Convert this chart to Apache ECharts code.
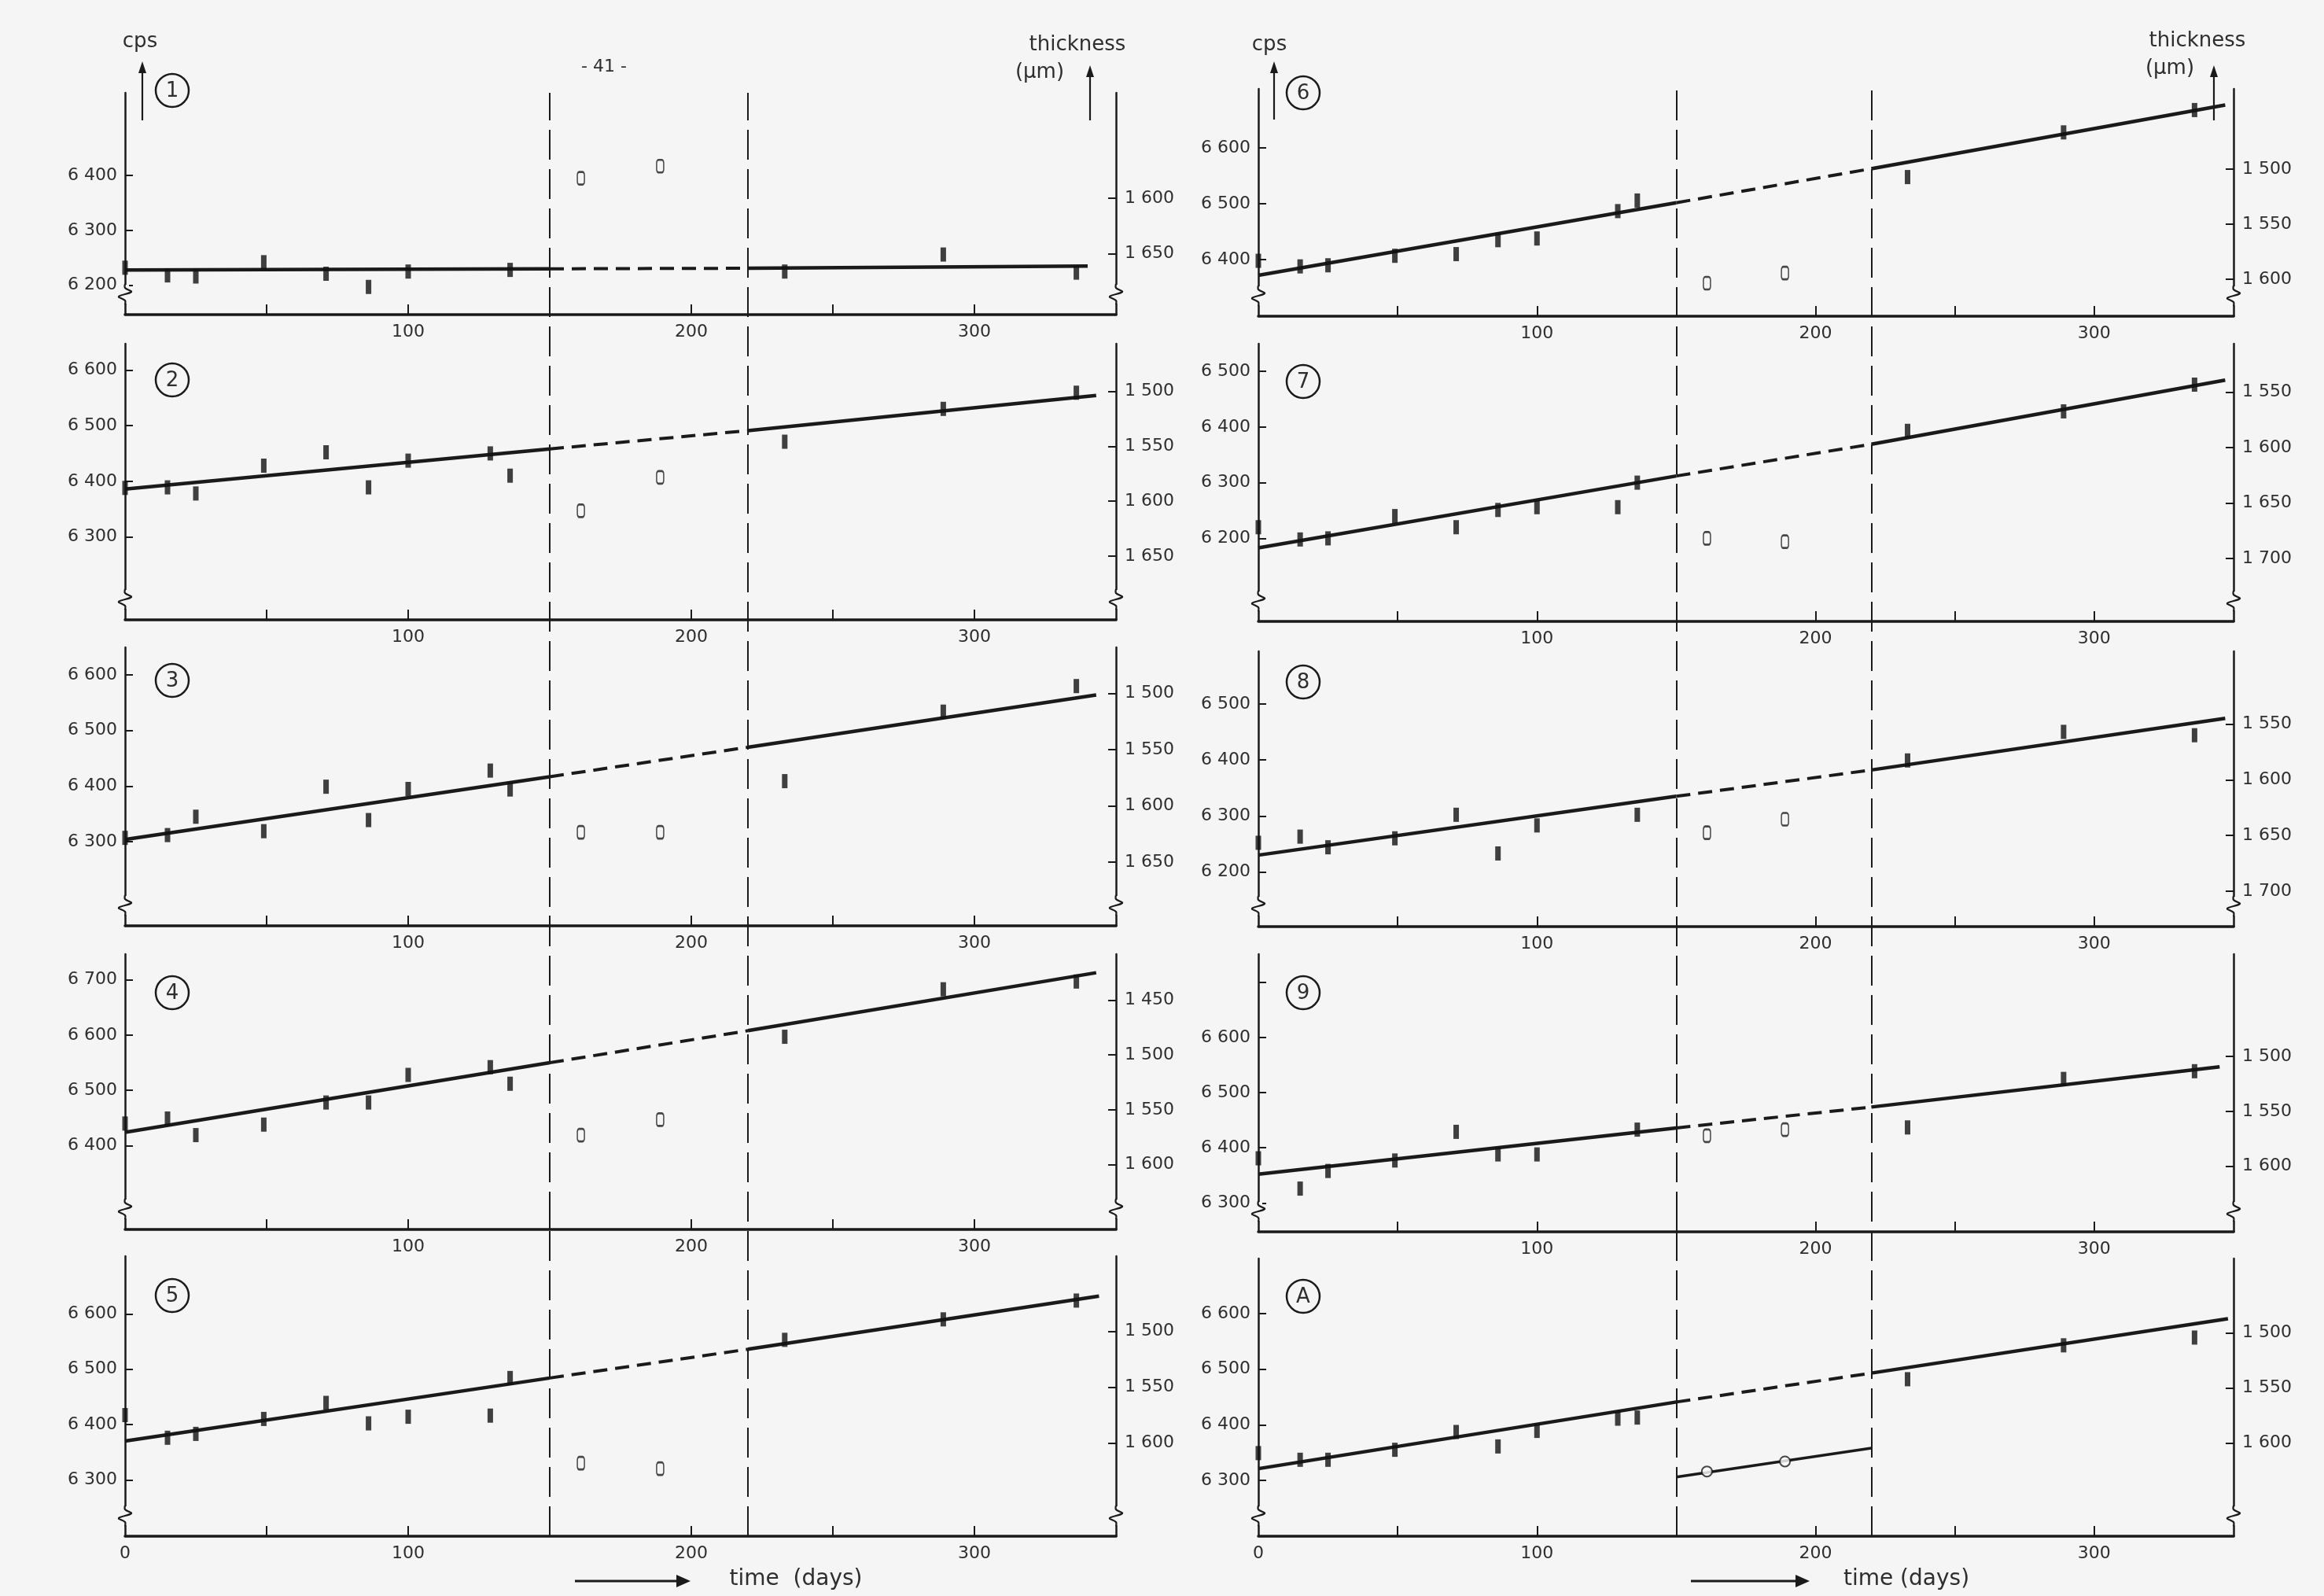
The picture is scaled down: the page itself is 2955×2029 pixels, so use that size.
<!DOCTYPE html>
<html><head><meta charset="utf-8">
<script src="https://cdn.jsdelivr.net/npm/echarts@6/dist/echarts.min.js"></script>
<style>html,body{margin:0;padding:0;background:#f5f5f5}#c{width:2955px;height:2029px}</style>
</head><body><div id="c"></div><script>
// ---------------- DATA ----------------
const filledDays = [0, 15, 25, 49, 71, 86, 100, 129, 136, 233, 289, 336];
const openDays = [161, 189];
const phaseBounds = [150, 220];
const panelNames = ['1', '2', '3', '4', '5', '6', '7', '8', '9', 'A'];

const cps1 = [6232, 6218, 6216, 6242, 6221, 6197, 6225, null, 6228, 6225, 6256, 6223];
const cps2 = [6388, 6389, 6378, 6428, 6452, 6389, 6437, 6450, 6410, 6471, 6530, 6559];
const cps3 = [6307, 6312, 6345, 6319, 6399, 6339, 6395, 6428, 6394, 6409, 6534, 6580];
const cps4 = [6440, 6449, 6419, 6438, 6478, 6478, 6528, 6542, 6512, 6597, 6683, 6697];
const cps5 = [6417, 6376, 6383, 6410, 6439, 6402, 6414, 6416, 6484, 6553, 6590, 6624];
const cps6 = [6398, 6388, 6390, 6407, 6410, 6435, 6438, 6487, 6506, 6548, 6628, 6668];
const cps7 = [6220, 6198, 6200, 6240, 6220, 6251, 6256, 6256, 6300, 6393, 6428, 6476];
const cps8 = [6252, 6263, 6244, 6260, 6302, 6233, 6283, null, 6302, 6399, 6450, 6444];
const cps9 = [6381, 6326, 6358, 6377, 6429, 6388, 6388, null, 6433, 6437, 6525, 6539];
const cpsA = [6349, 6337, 6337, 6355, 6387, 6361, 6389, 6411, 6413, 6482, 6543, 6557];

const open1 = [6395, 6417];
const open2 = [6347, 6407];
const open3 = [6317, 6317];
const open4 = [6419, 6447];
const open5 = [6330, 6320];
const open6 = [6358, 6376];
const open7 = [6200, 6194];
const open8 = [6270, 6294];
const open9 = [6422, 6433];
const openA = [6316, 6334];

// fitted line read at day 0, 150, 220 and its end day
const fit1 = [6228, 6230, 6231, 6235];
const fit2 = [6386, 6458, 6491, 6554];
const fit3 = [6304, 6417, 6470, 6564];
const fit4 = [6424, 6550, 6608, 6713];
const fit5 = [6370, 6484, 6536, 6632];
const fit6 = [6372, 6502, 6563, 6677];
const fit7 = [6183, 6312, 6369, 6484];
const fit8 = [6230, 6335, 6382, 6474];
const fit9 = [6352, 6436, 6474, 6547];
const fitA = [6321, 6441, 6493, 6591];
const fitEndDays = [340, 343, 343, 343, 344, 347, 347, 347, 345, 348];
const lowerFitA = [6306, 6358]; // panel A, open-point line at day 150 and 220

// tick labels
const leftTicks = [
  [6200, 6300, 6400], [6300, 6400, 6500, 6600], [6300, 6400, 6500, 6600],
  [6400, 6500, 6600, 6700], [6300, 6400, 6500, 6600],
  [6400, 6500, 6600], [6200, 6300, 6400, 6500], [6200, 6300, 6400, 6500],
  [6300, 6400, 6500, 6600], [6300, 6400, 6500, 6600]
];
const leftExtraTicks = [[], [], [], [], [], [], [], [], [6700], []];
const rightTicks = [
  [1600, 1650], [1500, 1550, 1600, 1650], [1500, 1550, 1600, 1650],
  [1450, 1500, 1550, 1600], [1500, 1550, 1600],
  [1500, 1550, 1600], [1550, 1600, 1650, 1700], [1550, 1600, 1650, 1700],
  [1500, 1550, 1600], [1500, 1550, 1600]
];
const xTickDays = [50, 100, 150, 200, 250, 300];
const xLabelDays = [100, 200, 300];
const xLabelDaysBottom = [0, 100, 200, 300];

const CPS = [cps1, cps2, cps3, cps4, cps5, cps6, cps7, cps8, cps9, cpsA];
const OPEN = [open1, open2, open3, open4, open5, open6, open7, open8, open9, openA];
const FIT = [fit1, fit2, fit3, fit4, fit5, fit6, fit7, fit8, fit9, fitA];

// ---------------- LAYOUT / STYLE ----------------
const BG = '#f5f5f5';
const INK = '#1a1a1a';
const TXT = '#2e2e2e';
const FONT = 'DejaVu Sans';
const COLS = [{ left: 159, right: 1419 }, { left: 1600, right: 2840 }];
const LAYOUT = [
  { col: 0, top: 118, bottom: 400, y: [6146.5, 6550.6], t: [1504.8, 1704.9], cy: 115 },
  { col: 0, top: 437, bottom: 788, y: [6151, 6647], t: [1456.7, 1707.9], cy: 483 },
  { col: 0, top: 823, bottom: 1177, y: [6148.8, 6649.6], t: [1459.1, 1706.5], cy: 865 },
  { col: 0, top: 1213, bottom: 1563, y: [6248.2, 6746.6], t: [1408.1, 1659], cy: 1262 },
  { col: 0, top: 1597, bottom: 1953, y: [6198, 6704.2], t: [1432.7, 1683.4], cy: 1647, last: true },
  { col: 1, top: 113, bottom: 402, y: [6298.8, 6705.9], t: [1427.4, 1633.4], cy: 118 },
  { col: 1, top: 437, bottom: 790, y: [6050.9, 6549.4], t: [1506.3, 1756.7], cy: 485 },
  { col: 1, top: 828, bottom: 1178, y: [6102.4, 6593.8], t: [1484.6, 1731.8], cy: 867 },
  { col: 1, top: 1213, bottom: 1566, y: [6247.6, 6751.4], t: [1406.7, 1659.8], cy: 1262 },
  { col: 1, top: 1600, bottom: 1953, y: [6199.4, 6699.2], t: [1432.6, 1684.6], cy: 1648, last: true }
];

const fmt = v => { const s = String(v); return s.charAt(0) + ' ' + s.slice(1); };

const grid = [], xAxis = [], yAxis = [], series = [];
LAYOUT.forEach((L, i) => {
  const C = COLS[L.col];
  grid.push({ left: C.left, top: L.top, width: C.right - C.left, height: L.bottom - L.top });
  xAxis.push({
    gridIndex: i, type: 'value', min: 0, max: 350,
    axisLine: { onZero: false, lineStyle: { color: INK, width: 3.5 } },
    axisTick: { customValues: xTickDays, inside: true, length: 13, lineStyle: { color: INK, width: 2 } },
    axisLabel: { customValues: L.last ? xLabelDaysBottom : xLabelDays, fontSize: 22, color: TXT, fontFamily: FONT, margin: 11 },
    splitLine: { show: false }
  });
  yAxis.push({
    gridIndex: i, type: 'value', position: 'left', min: L.y[0], max: L.y[1],
    axisLine: { show: true, onZero: false, lineStyle: { color: INK, width: 2.5 } },
    axisTick: { show: true, customValues: leftTicks[i].concat(leftExtraTicks[i]), inside: true, length: 10, lineStyle: { color: INK, width: 2 } },
    axisLabel: { customValues: leftTicks[i], formatter: fmt, fontSize: 22, color: TXT, fontFamily: FONT, margin: 10 },
    splitLine: { show: false }
  });
  yAxis.push({
    gridIndex: i, type: 'value', position: 'right', inverse: true, min: L.t[0], max: L.t[1],
    axisLine: { show: true, onZero: false, lineStyle: { color: INK, width: 2.5 } },
    axisTick: { show: true, customValues: rightTicks[i], inside: true, length: 10, lineStyle: { color: INK, width: 2 } },
    axisLabel: { customValues: rightTicks[i], formatter: fmt, fontSize: 22, color: TXT, fontFamily: FONT, margin: 11 },
    splitLine: { show: false }
  });
  const fit = FIT[i];
  const seg = (data, dashed, w) => ({
    type: 'line', xAxisIndex: i, yAxisIndex: 2 * i, data, showSymbol: false, silent: true, z: 2,
    lineStyle: { color: INK, width: w, type: dashed ? [18, 10] : 'solid' }
  });
  series.push(seg([[0, fit[0]], [phaseBounds[0], fit[1]]], false, 4.5));
  series.push(seg([[phaseBounds[0], fit[1]], [phaseBounds[1], fit[2]]], true, 4));
  series.push(seg([[phaseBounds[1], fit[2]], [fitEndDays[i], fit[3]]], false, 4.5));
  series.push({
    type: 'scatter', xAxisIndex: i, yAxisIndex: 2 * i, z: 4, silent: true,
    data: filledDays.map((d, k) => [d, CPS[i][k]]).filter(p => p[1] !== null),
    symbol: 'rect', symbolSize: [7, 18], itemStyle: { color: '#111111' }
  });
  const isA = panelNames[i] === 'A';
  if (isA) {
    series.push(seg([[phaseBounds[0], lowerFitA[0]], [phaseBounds[1], lowerFitA[1]]], false, 3.5));
  }
  series.push({
    type: 'scatter', xAxisIndex: i, yAxisIndex: 2 * i, z: 5, silent: true,
    data: openDays.map((d, k) => [d, OPEN[i][k]]),
    symbol: isA ? 'circle' : 'roundRect', symbolSize: isA ? 13 : [9, 16],
    itemStyle: { color: isA ? '#ffffff' : BG, borderColor: INK, borderWidth: 2 }
  });
});

// overlay grids carrying the vertical phase-boundary lines across each column
[{ col: 0, top: 118 }, { col: 1, top: 114 }].forEach((O, j) => {
  const C = COLS[O.col];
  const gi = LAYOUT.length + j;
  grid.push({ left: C.left, top: O.top, width: C.right - C.left, height: 1953 - O.top });
  xAxis.push({ gridIndex: gi, type: 'value', min: 0, max: 350, show: false });
  yAxis.push({ gridIndex: gi, type: 'value', min: 0, max: 1, show: false });
  series.push({
    type: 'line', xAxisIndex: gi, yAxisIndex: yAxis.length - 1, data: [[0, 0]], showSymbol: false,
    lineStyle: { opacity: 0 }, silent: true, z: 3,
    markLine: {
      silent: true, symbol: ['none', 'none'], label: { show: false }, animation: false,
      lineStyle: { type: [38, 12], width: 2, color: INK },
      data: phaseBounds.map(d => ({ xAxis: d }))
    }
  });
});

// ---------------- ANNOTATIONS ----------------
const g = [];
const txt = (text, x, y, size, align) => g.push({
  type: 'text', x, y, z: 100, silent: true,
  style: { text, font: size + 'px ' + FONT, fill: TXT, align: align || 'center', verticalAlign: 'middle', textAlign: align || 'center', textVerticalAlign: 'middle' }
});
const vArrow = (x, y0, y1) => {
  g.push({ type: 'line', z: 100, silent: true, shape: { x1: x, y1: y0, x2: x, y2: y1 + 12 }, style: { stroke: INK, lineWidth: 2.2 } });
  g.push({ type: 'polygon', z: 100, silent: true, shape: { points: [[x, y1], [x - 5, y1 + 15], [x + 5, y1 + 15]] }, style: { fill: INK } });
};
const hArrow = (x0, x1, y) => {
  g.push({ type: 'line', z: 100, silent: true, shape: { x1: x0, y1: y, x2: x1 - 14, y2: y }, style: { stroke: INK, lineWidth: 3 } });
  g.push({ type: 'polygon', z: 100, silent: true, shape: { points: [[x1, y], [x1 - 18, y - 8], [x1 - 18, y + 8]] }, style: { fill: INK } });
};
// headers
txt('cps', 178, 53, 26); vArrow(181, 153, 78);
txt('thickness', 1370, 57, 26); txt('(µm)', 1322, 92, 26); vArrow(1386, 153, 83);
txt('- 41 -', 768, 85, 22);
txt('cps', 1614, 57, 26); vArrow(1620, 152, 78);
txt('thickness', 2794, 52, 26); txt('(µm)', 2759, 87, 26); vArrow(2815, 153, 83);
// time axis titles
txt('time  (days)', 1012, 2008, 28); hArrow(731, 878, 2010);
txt('time (days)', 2424, 2008, 28); hArrow(2150, 2301, 2010);
// circled panel numbers and axis breaks
LAYOUT.forEach((L, i) => {
  const C = COLS[L.col];
  const cx = C.left + (L.col === 0 ? 60 : 57);
  g.push({ type: 'circle', z: 100, silent: true, shape: { cx, cy: L.cy, r: 21 }, style: { fill: 'none', stroke: INK, lineWidth: 2.5 } });
  txt(panelNames[i], cx, L.cy + 1, 26);
  const yb = L.bottom - 26;
  [C.left, C.right].forEach(x => {
    g.push({ type: 'rect', z: 99, silent: true, shape: { x: x - 5, y: yb - 12, width: 10, height: 24 }, style: { fill: BG } });
    g.push({ type: 'polyline', z: 100, silent: true,
      shape: { points: [[x, yb - 13], [x, yb - 8], [x + 8, yb - 3], [x - 8, yb + 3], [x, yb + 8], [x, yb + 13]], smooth: 0.35 },
      style: { stroke: INK, lineWidth: 2.2, fill: 'none' } });
  });
});

const chart = echarts.init(document.getElementById('c'), null, { renderer: 'canvas' });
chart.setOption({ backgroundColor: BG, animation: false, grid, xAxis, yAxis, series, graphic: { elements: g } });
</script></body></html>
